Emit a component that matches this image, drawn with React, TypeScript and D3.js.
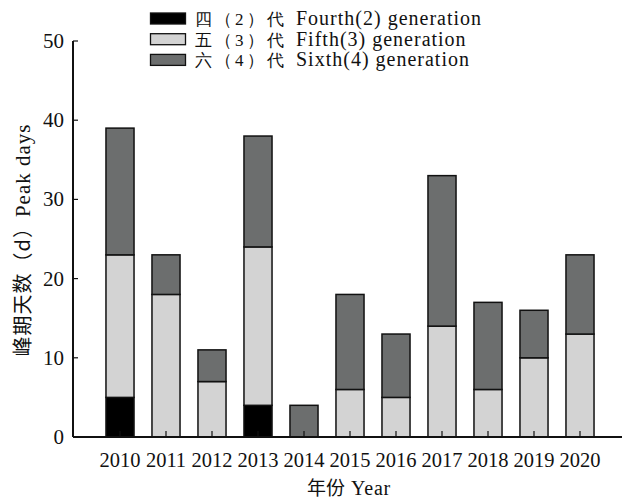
import React from "react";
import * as d3 from "d3";

const years = ["2010", "2011", "2012", "2013", "2014", "2015", "2016", "2017", "2018", "2019", "2020"];
const fourth = [5, 0, 0, 4, 0, 0, 0, 0, 0, 0, 0];
const fifth = [18, 18, 7, 20, 0, 6, 5, 14, 6, 10, 13];
const sixth = [16, 5, 4, 14, 4, 12, 8, 19, 11, 6, 10];
const yTicks = [0, 10, 20, 30, 40, 50];

const seriesKeys = ["fourth", "fifth", "sixth"];
const seriesCn = ["四（2）代", "五（3）代", "六（4）代"];
const seriesEn = ["Fourth(2) generation", "Fifth(3) generation", "Sixth(4) generation"];
const seriesColors = ["#000000", "#d3d3d3", "#6c6e6e"];

const W = 623;
const H = 500;
const axisX = 73;
const axisY0 = 437;
const axisYTop = 41;
const serif = "Liberation Serif";
const cjk = "Noto Sans CJK SC";

export default function App() {
  const rows = years.map((y, i) => ({ year: y, fourth: fourth[i], fifth: fifth[i], sixth: sixth[i] }));
  const stack = d3.stack<any>().keys(seriesKeys)(rows);

  const x = d3.scaleBand().domain(years).range([97, 603]).paddingInner(0.39).paddingOuter(0.195);
  const y = d3.scaleLinear().domain([0, 50]).range([axisY0, axisYTop]);

  return (
    <svg width={W} height={H} style={{ position: "absolute", left: 0, top: 0, background: "#fff" }}>
      {/* stacked bars */}
      {stack.map((s, si) =>
        s.map((d, i) =>
          d[1] - d[0] > 0 ? (
            <rect
              key={`${si}-${i}`}
              x={x(years[i])}
              y={y(d[1])}
              width={x.bandwidth()}
              height={y(d[0]) - y(d[1])}
              fill={seriesColors[si]}
              stroke="#111"
              strokeWidth={1.5}
            />
          ) : null
        )
      )}

      {/* x axis */}
      <line x1={axisX} x2={622} y1={axisY0} y2={axisY0} stroke="#111" strokeWidth={2} />
      {years.map((yr) => {
        const cx = (x(yr) as number) + x.bandwidth() / 2;
        return (
          <g key={yr}>
            <line x1={cx} x2={cx} y1={axisY0} y2={axisY0 - 6} stroke="#111" strokeWidth={1.2} />
            <text x={cx} y={467} textAnchor="middle" fontFamily={serif} fontSize={20.5} fill="#111">
              {yr}
            </text>
          </g>
        );
      })}
      <text x={349} y={495} textAnchor="middle" fontFamily={serif} fontSize={20} fill="#111">
        <tspan fontFamily={cjk} fontSize={19}>年份</tspan>
        <tspan dx={6} letterSpacing={0.8}>Year</tspan>
      </text>

      {/* y axis */}
      <line x1={axisX} x2={axisX} y1={axisYTop} y2={axisY0} stroke="#111" strokeWidth={2} />
      {yTicks.map((t) => (
        <g key={t}>
          <line x1={axisX} x2={axisX + 5} y1={y(t)} y2={y(t)} stroke="#111" strokeWidth={1.2} />
          <text x={64} y={y(t) + 7} textAnchor="end" fontFamily={serif} fontSize={21} fill="#111">
            {t}
          </text>
        </g>
      ))}
      <text
        transform={`translate(30,${240}) rotate(-90)`}
        textAnchor="middle"
        fontFamily={serif}
        fontSize={21}
        fill="#111"
      >
        <tspan fontFamily={cjk} fontSize={20} letterSpacing={1}>峰期天数（d）</tspan>
        <tspan letterSpacing={1}>Peak days</tspan>
      </text>

      {/* legend */}
      {seriesCn.map((cn, i) => (
        <g key={cn} transform={`translate(150,${13 + i * 20.7})`}>
          <rect x={0.5} y={0} width={35} height={11} fill={seriesColors[i]} stroke="#111" strokeWidth={1.3} />
          <text x={45} y={12} fontFamily={serif} fontSize={17} letterSpacing={3} fill="#111">
            {cn}
          </text>
          <text x={146} y={12} fontFamily={serif} fontSize={20} letterSpacing={1} fill="#111">
            {seriesEn[i]}
          </text>
        </g>
      ))}
    </svg>
  );
}
